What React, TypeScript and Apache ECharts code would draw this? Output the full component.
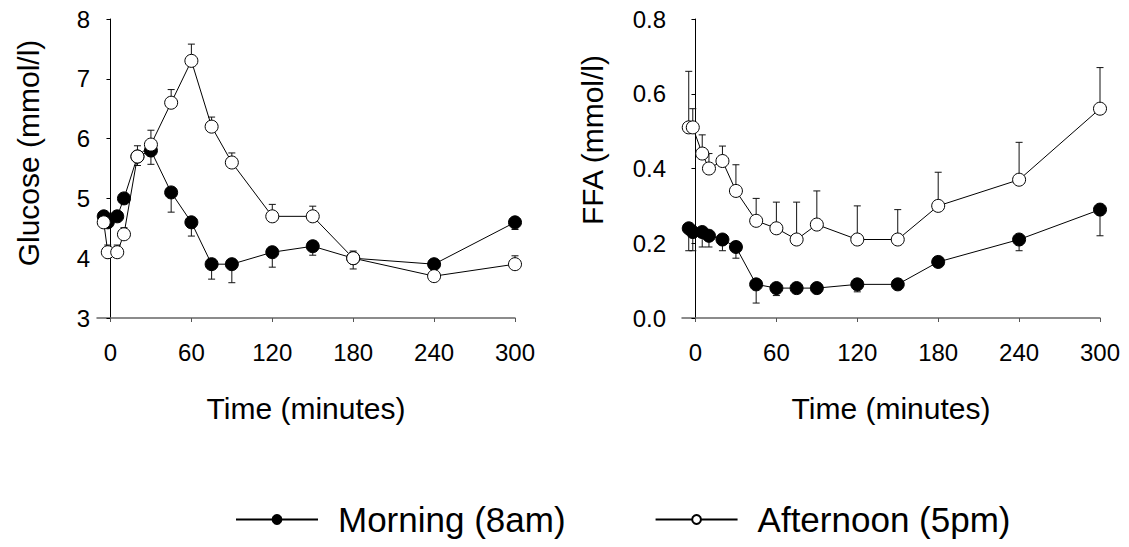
import React, { useEffect, useRef } from "react";
import * as echarts from "echarts";

const times = [-5, -2, 5, 10, 20, 30, 45, 60, 75, 90, 120, 150, 180, 240, 300];
const xTicks = [0, 60, 120, 180, 240, 300];

const glucoseMorning = [4.7, 4.6, 4.7, 5.0, 5.7, 5.8, 5.1, 4.6, 3.9, 3.9, 4.1, 4.2, 4.0, 3.9, 4.6];
const glucoseMorningErr = [0.05, 0.05, 0.08, 0.05, 0.15, 0.23, 0.33, 0.23, 0.25, 0.31, 0.25, 0.15, 0.18, 0.05, 0.12];
const glucoseAfternoon = [4.6, 4.1, 4.1, 4.4, 5.7, 5.9, 6.6, 7.3, 6.2, 5.6, 4.7, 4.7, 4.0, 3.7, 3.9];
const glucoseAfternoonErr = [0.05, 0.12, 0.12, 0.11, 0.18, 0.24, 0.22, 0.28, 0.16, 0.16, 0.2, 0.17, 0.12, 0.03, 0.14];

const ffaMorning = [0.24, 0.23, 0.23, 0.22, 0.21, 0.19, 0.09, 0.08, 0.08, 0.08, 0.09, 0.09, 0.15, 0.21, 0.29];
const ffaMorningErr = [0.06, 0.05, 0.04, 0.03, 0.03, 0.03, 0.05, 0.02, 0.01, 0.01, 0.02, 0.01, 0.01, 0.03, 0.07];
const ffaAfternoon = [0.51, 0.51, 0.44, 0.40, 0.42, 0.34, 0.26, 0.24, 0.21, 0.25, 0.21, 0.21, 0.30, 0.37, 0.56];
const ffaAfternoonErr = [0.15, 0.05, 0.05, 0.04, 0.04, 0.07, 0.06, 0.07, 0.10, 0.09, 0.09, 0.08, 0.09, 0.10, 0.11];

const MORNING = "Morning (8am)";
const AFTERNOON = "Afternoon (5pm)";
const FONT = "'Liberation Sans', Arial, Helvetica, sans-serif";

function pairs(vals: number[]) {
  return times.map((t, i) => [t, vals[i]]);
}
function errData(vals: number[], errs: number[], dir: number) {
  return times.map((t, i) => [t, vals[i], vals[i] + dir * errs[i]]);
}

const errRender = (params: any, api: any) => {
  const x = api.value(0);
  const y = api.value(1);
  const end = api.value(2);
  const p0 = api.coord([x, y]);
  const p1 = api.coord([x, end]);
  const hw = 3.5;
  const st = { stroke: "#111", lineWidth: 1 };
  return {
    type: "group",
    children: [
      { type: "line", shape: { x1: p0[0], y1: p0[1], x2: p1[0], y2: p1[1] }, style: st },
      { type: "line", shape: { x1: p1[0] - hw, y1: p1[1], x2: p1[0] + hw, y2: p1[1] }, style: st },
    ],
  };
};

export default function App() {
  const ref = useRef<HTMLDivElement>(null);
  useEffect(() => {
    if (!ref.current) return;
    const chart = echarts.init(ref.current, undefined, { renderer: "svg" });
    const xAxisBase = (gridIndex: number) => ({
      type: "value",
      gridIndex,
      min: -10,
      max: 300,
      axisLine: { show: true, lineStyle: { color: "#666", width: 1.5 } },
      axisTick: { show: true, length: 4, customValues: xTicks, lineStyle: { color: "#555", width: 1 } },
      axisLabel: { customValues: xTicks, fontSize: 24, color: "#000", fontFamily: FONT, margin: 22 },
      splitLine: { show: false },
    });
    const lineSeries = (name: string, data: number[], idx: number, filled: boolean) => ({
      type: "line",
      name,
      xAxisIndex: idx,
      yAxisIndex: idx,
      data: pairs(data),
      symbol: "circle",
      symbolSize: 13,
      z: filled ? 3 : 4,
      lineStyle: { color: "#000", width: 1 },
      itemStyle: { color: filled ? "#000" : "#fff", borderColor: "#000", borderWidth: 1 },
    });
    const errSeries = (vals: number[], errs: number[], dir: number, idx: number) => ({
      type: "custom",
      xAxisIndex: idx,
      yAxisIndex: idx,
      coordinateSystem: "cartesian2d",
      renderItem: errRender,
      encode: { x: 0, y: [1, 2] },
      data: errData(vals, errs, dir),
      z: 2,
      silent: true,
    });
    chart.setOption({
      animation: false,
      backgroundColor: "#fff",
      textStyle: { fontFamily: FONT },
      grid: [
        { left: 97, top: 19, width: 418, height: 299 },
        { left: 682, top: 19, width: 418, height: 299 },
      ],
      xAxis: [xAxisBase(0), xAxisBase(1)],
      yAxis: [
        {
          type: "value",
          gridIndex: 0,
          min: 3,
          max: 8,
          interval: 1,
          axisLine: { show: true, lineStyle: { color: "#000", width: 1 } },
          axisTick: { show: true, length: 4, lineStyle: { color: "#000" } },
          axisLabel: { fontSize: 24, color: "#000", fontFamily: FONT, margin: 7 },
          splitLine: { show: false },
        },
        {
          type: "value",
          gridIndex: 1,
          min: 0,
          max: 0.8,
          interval: 0.2,
          axisLine: { show: true, lineStyle: { color: "#000", width: 1 } },
          axisTick: { show: true, length: 4, lineStyle: { color: "#000" } },
          axisLabel: {
            fontSize: 24,
            color: "#000",
            fontFamily: FONT,
            margin: 16,
            formatter: (v: number) => v.toFixed(1),
          },
          splitLine: { show: false },
        },
      ],
      legend: {
        data: [MORNING, AFTERNOON],
        left: 235,
        top: 502,
        padding: 0,
        itemWidth: 82,
        itemHeight: 11,
        itemGap: 89,
        textStyle: { fontSize: 35, color: "#000", fontFamily: FONT, padding: [0, 0, 0, 15] },
      },
      graphic: [
        {
          type: "text",
          x: 28,
          y: 153,
          rotation: Math.PI / 2,
          style: { text: "Glucose (mmol/l)", fontSize: 30, fontFamily: FONT, fill: "#000", align: "center", verticalAlign: "middle" },
        },
        {
          type: "text",
          x: 592,
          y: 140,
          rotation: Math.PI / 2,
          style: { text: "FFA (mmol/l)", fontSize: 30, fontFamily: FONT, fill: "#000", align: "center", verticalAlign: "middle" },
        },
        {
          type: "text",
          x: 306,
          y: 408,
          style: { text: "Time (minutes)", fontSize: 30, fontFamily: FONT, fill: "#000", align: "center", verticalAlign: "middle" },
        },
        {
          type: "text",
          x: 891,
          y: 408,
          style: { text: "Time (minutes)", fontSize: 30, fontFamily: FONT, fill: "#000", align: "center", verticalAlign: "middle" },
        },
      ],
      series: [
        errSeries(glucoseMorning, glucoseMorningErr, -1, 0),
        errSeries(glucoseAfternoon, glucoseAfternoonErr, 1, 0),
        errSeries(ffaMorning, ffaMorningErr, -1, 1),
        errSeries(ffaAfternoon, ffaAfternoonErr, 1, 1),
        lineSeries(MORNING, glucoseMorning, 0, true),
        lineSeries(AFTERNOON, glucoseAfternoon, 0, false),
        lineSeries(MORNING, ffaMorning, 1, true),
        lineSeries(AFTERNOON, ffaAfternoon, 1, false),
      ],
    });
    return () => chart.dispose();
  }, []);
  return (
    <div
      ref={ref}
      style={{ position: "fixed", left: 0, top: 0, width: 1129, height: 547, background: "#fff" }}
    />
  );
}
